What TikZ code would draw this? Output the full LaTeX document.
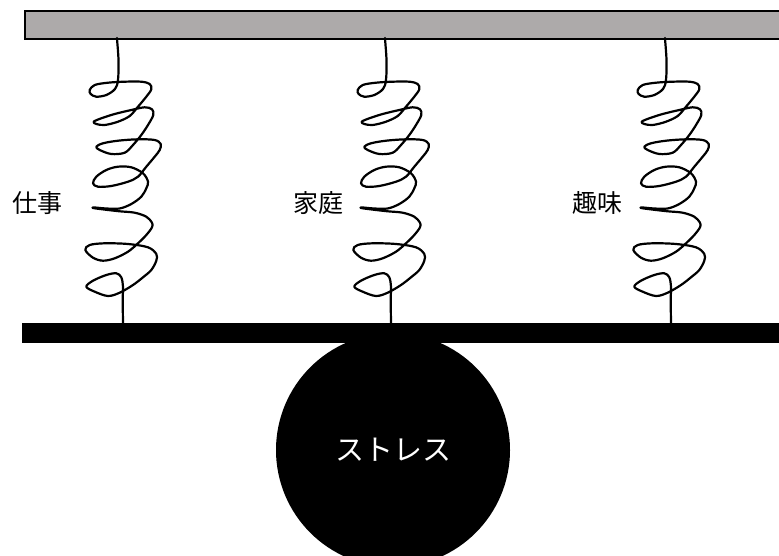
\documentclass[tikz,border=0pt]{standalone}
\usepackage{fontspec}
\newfontfamily\jpfont{Noto Sans CJK JP}
\begin{document}
\begin{tikzpicture}[x=1pt,y=-1pt,
  ceilingbar/.style={draw=black,line width=2pt,fill={rgb,255:red,173;green,170;blue,170},
    rectangle,inner sep=0pt,minimum width=780pt,minimum height=28pt,anchor=north west},
  beambar/.style={fill=black,rectangle,inner sep=0pt,minimum width=780pt,minimum height=20pt,anchor=north west},
  weight/.style={circle,fill=black,inner sep=0pt,minimum size=234pt,text=white,
    font=\jpfont\fontsize{29}{29}\selectfont},
  tag/.style={inner sep=0pt,font=\jpfont\fontsize{25}{25}\selectfont},
  coil/.style={line width=2.2pt,line cap=round,line join=round}]
\useasboundingbox (0,0) rectangle (779,556);
\clip (0,0) rectangle (779,556);

% weight hanging under the beam
\node[weight] (stress) at (393,450) {ストレス};
% ceiling and beam
\node[ceilingbar] (ceiling) at (23.5,10.3) {};
\node[beambar] (beam) at (22,323) {};

% spring attachment points
\foreach \i/\dx in {1/0,2/268,3/548}{
  \coordinate (top\i) at (117+\dx,38);
  \coordinate (bot\i) at (123+\dx,323);
}

% hand-drawn springs, one loop per turn
\foreach \i/\dx in {1/0,2/268,3/548}{
  \begin{scope}[shift={(\dx,0)}]
  \draw[coil] (top\i) -- plot[smooth,tension=0.55] coordinates {
    (117,39) (118.5,60) (118,80) (115,89) (106.3,95) (96.3,96.7) (90.7,94)
    (89.7,90) (94.7,85) (108,82.7) (124.7,81.7) (141.3,81.7) (149.7,84)
    (151.3,89.3) (146.3,96.7) (138,106.7) (129.7,116) (118,121.7) (104.7,125) (96.3,124)
    (93.7,121.7) (101.3,118.3) (114.7,114) (131.3,110) (144.7,107.3) (152,109.3)
    (153.3,115) (148,125) (141.3,135) (133,145) (124.7,152.7) (111.3,154) (99.7,150)
    (96.3,146.7) (103,143.3) (118,140.7) (138,139.3) (154.7,140) (160.7,144)
    (159.7,150) (154.7,156.7) (146.3,166.7) (138,176.7) (128,181.7) (111.3,186) (98,186.7)
    (93,183.3) (96.3,176.7) (106.3,170) (118,166.7) (131.3,167.3) (143,173.3) (148,181.7)
    (146.3,188.3) (141.3,196.7) (131.3,204) (119.7,208.5) (106.3,208.5) (94.7,207.5)
    (93,208) (104.7,209.6) (119.7,211.3) (134.7,212.7) (146.3,216.7) (152,222.7)
    (152,227.3) (146.3,235) (138,243.3) (128,251.7) (114.7,258.3) (103,260.7) (93,257.7)
    (85.3,250) (89.7,245) (104.7,243.3) (128,244) (148,247.3) (156.3,254)
    (156.3,260.7) (151.3,270) (143,277.3) (133,285) (119.7,292.7) (108,296) (94.7,291.7)
    (86.3,286.7) (93,280.7) (106.3,275) (116.3,273.3) (121.3,277.3) (123,286.7)
    (122.7,300) (123,322) } -- (bot\i);
  \end{scope}
}

% labels
\node[tag] (work) at (37.5,203) {仕事};
\node[tag] (home) at (318.5,203) {家庭};
\node[tag] (hobby) at (597,203) {趣味};
\end{tikzpicture}
\end{document}
